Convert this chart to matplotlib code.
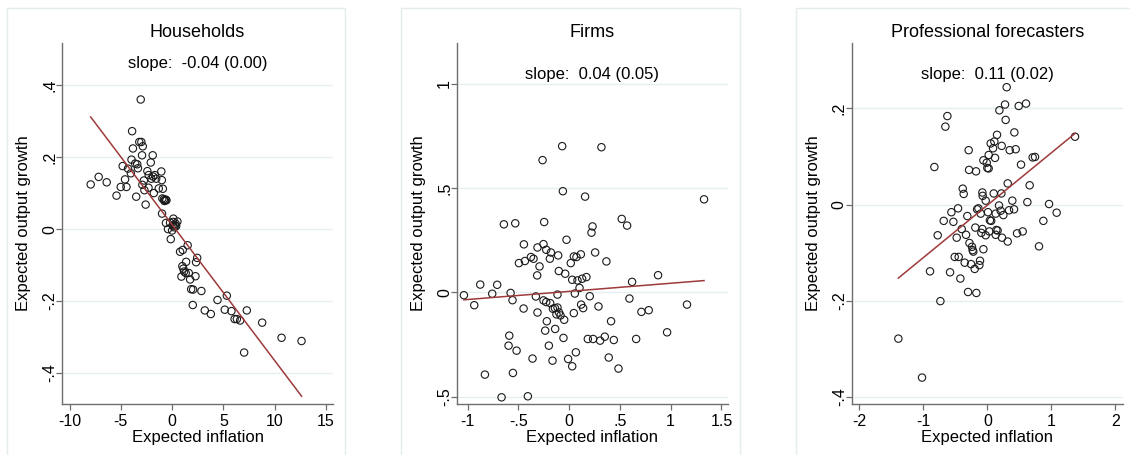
# expectations scatter: output growth vs inflation, three panels

import matplotlib
matplotlib.use('Agg')
import matplotlib.pyplot as plt
import numpy as np
from matplotlib.patches import Rectangle

plt.rcParams['font.family'] = ['Liberation Sans', 'DejaVu Sans']

# ---- data ----
hh_x = [-7.94, -7.16, -6.38, -5.42, -5.01, -4.82, -4.59, -4.45, -4.30, -4.02,
        -3.96, -3.90, -3.82, -3.60, -3.50, -3.40, -3.33, -3.20, -3.06, -3.00,
        -2.93, -2.90, -2.86, -2.75, -2.70, -2.58, -2.41, -2.30, -2.28, -2.08,
        -2.02, -1.89, -1.85, -1.78, -1.68, -1.55, -1.30, -1.05, -1.00, -0.98,
        -0.90, -0.95, -0.80, -0.70, -0.62, -0.55, -0.75, -0.60, -0.40, -0.20,
        -0.13, 0.00, 0.05, 0.13, 0.20, 0.30, 0.40, 0.52, 0.35, 0.10,
        0.78, 1.04, 1.37, 1.52, 2.34, 2.45, 1.00, 1.10, 1.17, 0.91,
        1.33, 1.63, 1.76, 2.28, 1.86, 2.05, 2.86, 2.02, 3.19, 3.78,
        4.43, 5.34, 5.14, 5.79, 6.10, 6.32, 6.64, 7.29, 7.03, 8.79,
        10.68, 12.63]
hh_y = [0.124, 0.145, 0.130, 0.093, 0.117, 0.175, 0.138, 0.117, 0.168, 0.155,
        0.193, 0.272, 0.224, 0.182, 0.090, 0.180, 0.169, 0.242, 0.360, 0.242,
        0.205, 0.123, 0.230, 0.135, 0.108, 0.068, 0.161, 0.115, 0.150, 0.185,
        0.140, 0.205, 0.146, 0.100, 0.150, 0.140, 0.113, 0.160, 0.136, 0.043,
        0.112, 0.085, 0.083, 0.080, 0.082, 0.080, 0.078, 0.017, 0.000, 0.018,
        -0.028, -0.004, 0.010, 0.029, 0.005, 0.010, 0.008, 0.021, 0.015, 0.020,
        -0.063, -0.058, -0.091, -0.045, -0.092, -0.080, -0.103, -0.110, -0.118, -0.132,
        -0.122, -0.122, -0.140, -0.131, -0.167, -0.168, -0.172, -0.211, -0.226, -0.236,
        -0.197, -0.185, -0.224, -0.228, -0.250, -0.250, -0.254, -0.226, -0.343, -0.260,
        -0.302, -0.311]

firm_x = [-1.037, -0.935, -0.876, -0.758, -0.709, -0.830, -0.666, -0.643, -0.531, -0.577,
          -0.558, -0.590, -0.597, -0.518, -0.554, -0.407, -0.446, -0.495, -0.436, -0.377,
          -0.351, -0.449, -0.361, -0.262, -0.246, -0.253, -0.312, -0.226, -0.292, -0.315,
          -0.180, -0.190, -0.328, -0.253, -0.226, -0.187, -0.312, -0.220, -0.236, -0.138,
          -0.200, -0.164, -0.108, -0.069, -0.062, -0.026, -0.102, -0.039, -0.115, -0.140,
          -0.115, -0.160, -0.100, -0.125, -0.085, -0.049, -0.056, -0.010, 0.030, 0.016,
          0.046, 0.072, 0.115, 0.030, 0.082, 0.128, 0.170, 0.102, 0.056, 0.046,
          0.066, 0.118, 0.138, 0.203, 0.157, 0.230, 0.220, 0.256, 0.289, 0.318,
          0.184, 0.236, 0.305, 0.351, 0.367, 0.413, 0.440, 0.390, 0.486, 0.518,
          0.571, 0.620, 0.594, 0.712, 0.784, 0.660, 0.876, 0.965, 1.161, 1.329]
firm_y = [-0.013, -0.061, 0.038, -0.006, 0.037, -0.394, -0.503, 0.327, 0.332, -0.002,
          -0.037, -0.207, -0.255, -0.279, -0.386, -0.498, 0.231, 0.141, 0.151, 0.170,
          0.162, -0.077, -0.317, 0.635, 0.338, 0.232, 0.216, 0.205, 0.125, 0.082,
          0.192, 0.162, -0.019, -0.038, -0.046, -0.051, -0.096, -0.138, -0.183, -0.175,
          -0.255, -0.327, 0.178, 0.702, 0.486, 0.253, 0.103, 0.090, -0.010, -0.075,
          -0.072, -0.078, -0.096, -0.105, -0.110, -0.131, -0.218, -0.319, -0.354, 0.141,
          0.173, 0.170, 0.183, 0.061, 0.058, 0.066, 0.074, 0.022, -0.005, -0.099,
          -0.287, -0.058, -0.075, -0.018, 0.460, 0.317, 0.287, 0.192, -0.067, 0.697,
          -0.223, -0.223, -0.231, -0.212, 0.149, -0.138, -0.228, -0.312, -0.365, 0.353,
          0.321, 0.051, -0.029, -0.093, -0.085, -0.223, 0.083, -0.191, -0.058, 0.447]

spf_x = [0.302, 0.276, 0.188, 0.490, 0.604, 0.286, -0.625, -0.656, 0.422, 0.151,
         1.370, 0.052, 0.109, 0.224, 0.089, 0.349, 0.443, -0.292, 0.021, 0.120,
         -0.062, -0.010, 0.000, 0.020, -0.828, -0.286, -0.177, 0.526, 0.708, 0.745,
         0.318, 0.661, -0.385, -0.370, -0.078, -0.073, 0.099, 0.219, -0.026, 0.390,
         0.625, 0.964, 1.083, -0.562, -0.458, -0.160, -0.140, 0.010, 0.182, 0.208,
         0.130, 0.250, -0.104, 0.339, 0.417, -0.682, -0.531, -0.313, 0.040, 0.060,
         -0.401, -0.776, -0.479, -0.333, -0.188, -0.078, -0.094, -0.026, 0.031, 0.140,
         0.160, 0.130, 0.229, 0.318, 0.464, 0.552, 0.875, 0.807, -0.280, -0.240,
         -0.220, -0.230, -0.062, -0.510, -0.448, -0.354, -0.255, -0.198, -0.125, -0.115,
         -0.896, -0.583, -0.422, -0.302, -0.172, -0.734, -1.391, -1.021]
spf_y = [0.244, 0.208, 0.196, 0.205, 0.210, 0.176, 0.184, 0.162, 0.150, 0.145,
         0.141, 0.127, 0.131, 0.122, 0.117, 0.113, 0.115, 0.113, 0.103, 0.097,
         0.092, 0.087, 0.076, 0.075, 0.078, 0.072, 0.069, 0.083, 0.098, 0.099,
         0.044, 0.040, 0.033, 0.022, 0.025, 0.018, 0.023, 0.023, 0.008, 0.008,
         0.005, 0.001, -0.017, -0.016, -0.008, -0.010, -0.008, -0.016, -0.002, -0.013,
         -0.019, -0.022, -0.019, -0.012, -0.010, -0.034, -0.036, -0.024, -0.033, -0.034,
         -0.051, -0.064, -0.069, -0.063, -0.048, -0.051, -0.059, -0.064, -0.056, -0.053,
         -0.054, -0.063, -0.069, -0.077, -0.060, -0.056, -0.034, -0.087, -0.080, -0.088,
         -0.098, -0.095, -0.093, -0.109, -0.109, -0.121, -0.124, -0.134, -0.126, -0.117,
         -0.139, -0.141, -0.154, -0.182, -0.184, -0.201, -0.279, -0.360]

# fitted lines (intercept, slope) and labels
fits = [(0.012, -0.0377), (0.0053, 0.039), (-0.0014, 0.109)]
slope_labels = ['slope:  -0.04 (0.00)', 'slope:  0.04 (0.05)', 'slope:  0.11 (0.02)']
titles = ['Households', 'Firms', 'Professional forecasters']
xticks = [[-10, -5, 0, 5, 10, 15], [-1, -0.5, 0, 0.5, 1, 1.5], [-2, -1, 0, 1, 2]]
yticks = [[-0.4, -0.2, 0, 0.2, 0.4], [-0.5, 0, 0.5, 1], [-0.4, -0.2, 0, 0.2]]
xlims = [(-10.74, 15.7), (-1.105, 1.565), (-2.12, 2.115)]
ylims = [(-0.486, 0.517), (-0.535, 1.197), (-0.415, 0.336)]
xs = [hh_x, firm_x, spf_x]
ys = [hh_y, firm_y, spf_y]


def stata_fmt(v):
    s = f'{v:g}'
    s = s.replace('-0.', '-.')
    if s.startswith('0.'):
        s = s[1:]
    return s


fig = plt.figure(figsize=(11.3, 4.55), dpi=100)

# light panel frames
frames = [(7, 345), (401, 740), (796, 1135)]
for x0, x1 in frames:
    fig.patches.append(Rectangle((x0 / 1130, -0.01), (x1 - x0) / 1130, 1 - 8 / 455 + 0.01,
                                 transform=fig.transFigure, fill=False,
                                 edgecolor='#e4eced', linewidth=1.0, zorder=0))

lefts = [62, 457, 851.7]
width = 271
bottom = 1 - 404 / 455
height = (404 - 43) / 455
slope_y = [0.942, 0.914, 0.914]

for i in range(3):
    ax = fig.add_axes([lefts[i] / 1130, bottom, width / 1130, height])
    x = np.array(xs[i])
    y = np.array(ys[i])
    for yt in yticks[i]:
        ax.axhline(yt, color='#e6eff0', linewidth=1.0, zorder=0)
    ax.scatter(x, y, s=28, facecolors='none', edgecolors='#1a1a1a', linewidths=0.8, zorder=3)
    a, b = fits[i]
    xl = np.array([x.min(), x.max()])
    ax.plot(xl, a + b * xl, color='#9e3a3a', linewidth=1.1, zorder=4)

    ax.set_xlim(*xlims[i])
    ax.set_ylim(*ylims[i])
    ax.set_xticks(xticks[i])
    ax.set_xticklabels([stata_fmt(v) for v in xticks[i]])
    ax.set_yticks(yticks[i])
    ax.set_yticklabels([stata_fmt(v) for v in yticks[i]], rotation=90, va='center')
    for side in ['top', 'right']:
        ax.spines[side].set_visible(False)
    for side in ['left', 'bottom']:
        ax.spines[side].set_color('#6e6e6e')
        ax.spines[side].set_linewidth(1.0)
    ax.tick_params(direction='out', length=4, width=0.9, color='#6e6e6e',
                   labelsize=11.5)
    ax.tick_params(axis='x', pad=3)
    ax.tick_params(axis='y', pad=-0.5)
    ax.set_facecolor('none')

    ax.set_xlabel('Expected inflation', fontsize=12, labelpad=1)
    ax.set_ylabel('Expected output growth', fontsize=12, labelpad=8)
    ax.set_title(titles[i], fontsize=13, pad=4)
    ax.text(0.5, slope_y[i], slope_labels[i], transform=ax.transAxes,
            ha='center', va='center', fontsize=12)

fig.savefig('out.png', dpi=100)
